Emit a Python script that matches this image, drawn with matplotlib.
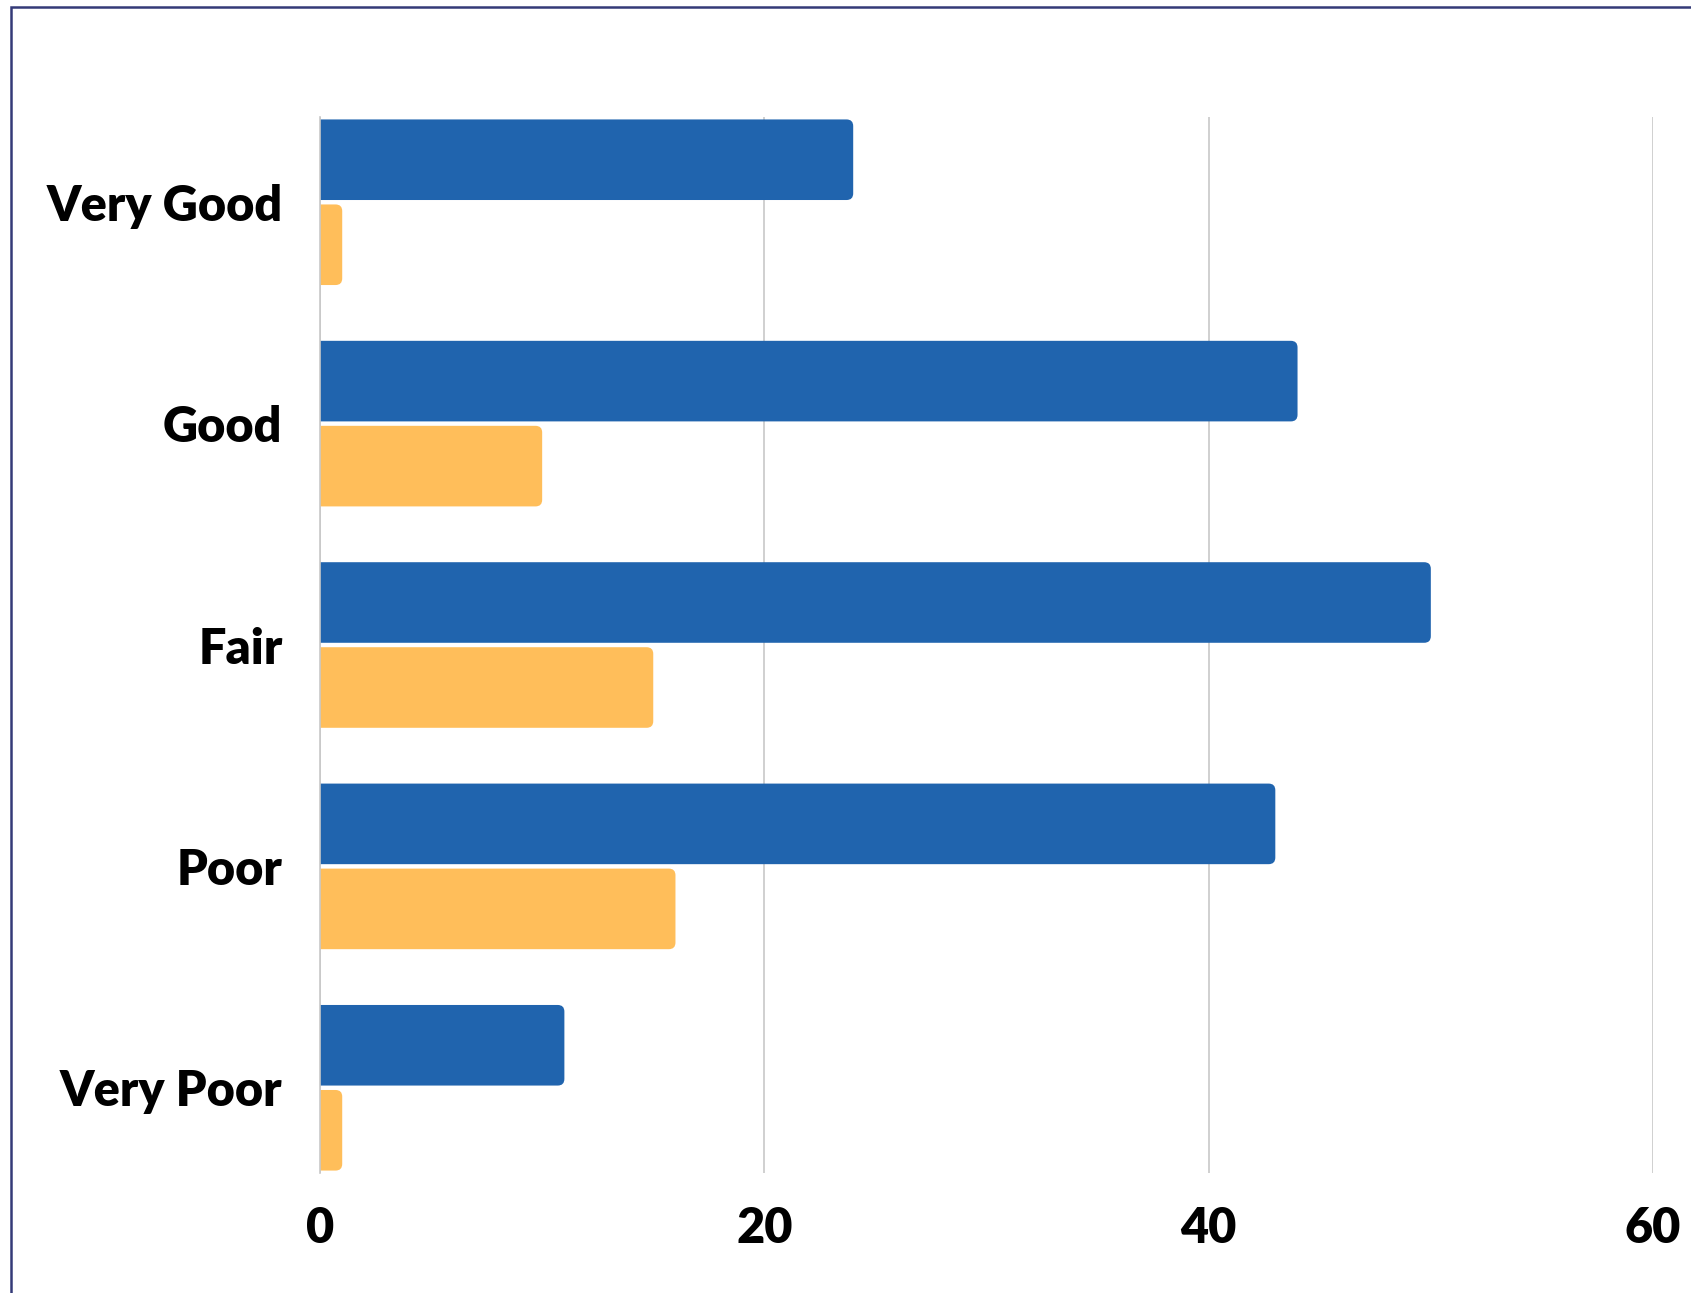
import numpy as np
import matplotlib
matplotlib.use("Agg")
import matplotlib.pyplot as plt
from matplotlib.patches import FancyBboxPatch, Rectangle

# data
categories = ["Very Good", "Good", "Fair", "Poor", "Very Poor"]
series_blue = [24, 44, 50, 43, 11]
series_orange = [1, 10, 15, 16, 1]
x_ticks = [0, 20, 40, 60]

blue = "#2064AE"
orange = "#FFBE5A"
navy = "#343A78"

plt.rcParams['font.family'] = ['Lato', 'DejaVu Sans']

fig = plt.figure(figsize=(16.91, 12.93), dpi=100)
ax = fig.add_axes([320 / 1691, 1 - 1173 / 1293, (1653 - 320) / 1691, (1173 - 117) / 1293])

y = np.arange(len(categories))
h = 0.364
off = 0.192

bars1 = ax.barh(y - off, series_blue, height=h, color=blue, zorder=3)
bars2 = ax.barh(y + off, series_orange, height=h, color=orange, zorder=3)

# swap plain bars for ones with rounded right corners
r = 0.3
for bars in (bars1, bars2):
    for p in bars:
        x0, y0 = p.get_x(), p.get_y()
        w, hh = p.get_width(), p.get_height()
        fb = FancyBboxPatch((x0 - 1, y0), w + 1, hh,
                            boxstyle=f"round,pad=0,rounding_size={r}",
                            mutation_aspect=0.1,
                            facecolor=p.get_facecolor(), edgecolor="none", zorder=3)
        ax.add_patch(fb)
        p.set_visible(False)

ax.set_xlim(0, 60)
ax.set_ylim(len(categories) - 1 + 0.385, -0.385)
ax.set_xticks(x_ticks)
ax.set_yticks(y)
ax.set_yticklabels(categories)

ax.grid(axis="x", color="#C8C8C8", linewidth=1.2, zorder=0)
ax.grid(axis="y", visible=False)
for s in ["top", "right", "bottom"]:
    ax.spines[s].set_visible(False)
ax.spines["left"].set_color("#C8C8C8")
ax.spines["left"].set_linewidth(1.2)
ax.spines["left"].set_zorder(4)

ax.tick_params(axis="both", length=0, labelsize=35)
ax.tick_params(axis="y", pad=27)
ax.tick_params(axis="x", pad=24)
for lbl in ax.get_xticklabels() + ax.get_yticklabels():
    lbl.set_fontweight("heavy")
    lbl.set_color("black")

# outer frame line (left and top edges visible)
fig.patches.append(Rectangle((11 / 1691, -0.05), 1.2, 1 - 7 / 1293 + 0.05,
                             transform=fig.transFigure, fill=False,
                             edgecolor=navy, linewidth=1.8, zorder=0))

fig.savefig("out.png", dpi=100, facecolor="white")
